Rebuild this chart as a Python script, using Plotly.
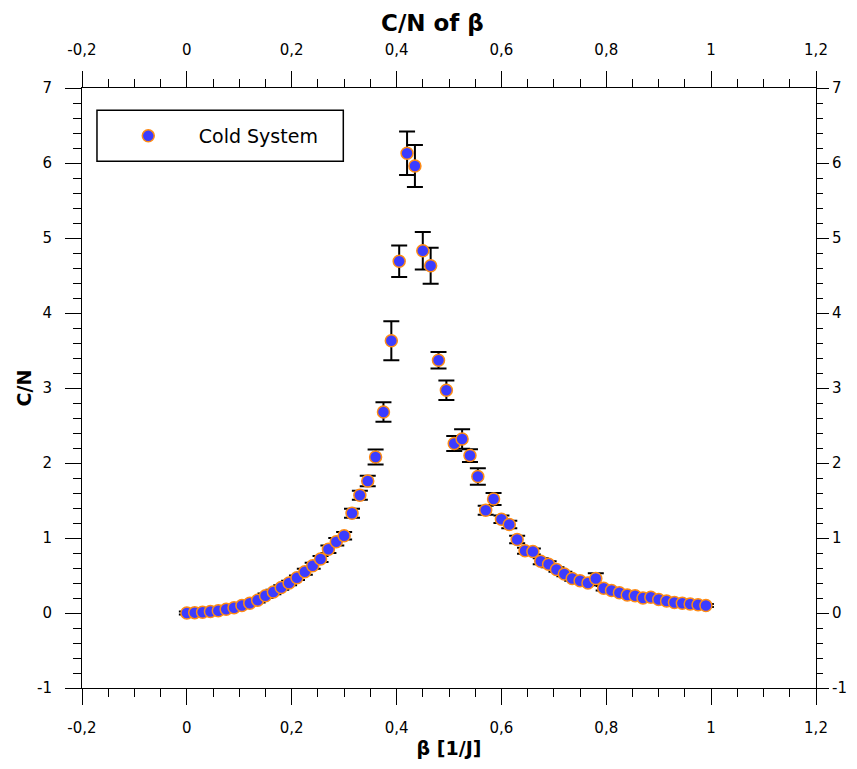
import plotly.graph_objects as go

# ---- data ----
beta = [round(0.015 * i, 3) for i in range(67)]
cn = [0.00, 0.005, 0.01, 0.02, 0.03, 0.05, 0.07, 0.10, 0.13, 0.17,
      0.23, 0.28, 0.34, 0.40, 0.47, 0.55, 0.63, 0.72, 0.85, 0.95,
      1.03, 1.33, 1.57, 1.76, 2.08, 2.68, 3.63, 4.69, 6.13, 5.96,
      4.83, 4.63, 3.37, 2.97, 2.26, 2.32, 2.10, 1.82, 1.37, 1.52,
      1.25, 1.18, 0.98, 0.83, 0.82, 0.69, 0.65, 0.58, 0.52, 0.46,
      0.43, 0.40, 0.46, 0.33, 0.30, 0.27, 0.24, 0.23, 0.20, 0.21,
      0.18, 0.16, 0.14, 0.13, 0.12, 0.11, 0.10]
cn_err = [0.02, 0.02, 0.02, 0.02, 0.02, 0.02, 0.02, 0.02, 0.02, 0.03,
          0.03, 0.03, 0.03, 0.03, 0.03, 0.04, 0.04, 0.04, 0.05, 0.05,
          0.05, 0.06, 0.06, 0.07, 0.10, 0.13, 0.26, 0.21, 0.29, 0.28,
          0.25, 0.24, 0.11, 0.13, 0.10, 0.13, 0.085, 0.11, 0.06, 0.08,
          0.05, 0.05, 0.05, 0.04, 0.04, 0.04, 0.04, 0.03, 0.03, 0.03,
          0.03, 0.03, 0.07, 0.03, 0.03, 0.03, 0.03, 0.03, 0.02, 0.02,
          0.02, 0.02, 0.02, 0.02, 0.02, 0.02, 0.02]

x_ticks = [-0.2, 0, 0.2, 0.4, 0.6, 0.8, 1, 1.2]
x_ticklabels = ["-0,2", "0", "0,2", "0,4", "0,6", "0,8", "1", "1,2"]
y_ticks = [-1, 0, 1, 2, 3, 4, 5, 6, 7]
y_ticklabels = ["-1", "0", "1", "2", "3", "4", "5", "6", "7"]

FONT = "DejaVu Sans"
TICKFONT = dict(family=FONT, size=15, color="black")
TITLEFONT = dict(family=FONT, size=19, color="black")

fig = go.Figure()
fig.add_trace(go.Scatter(
    x=beta, y=cn, mode="markers", name="Cold System",
    marker=dict(size=12, color="rgb(60,60,255)",
                line=dict(color="rgb(255,140,20)", width=1.5)),
    error_y=dict(type="data", array=cn_err, visible=True,
                 color="black", thickness=2, width=8),
))
# invisible companion trace so the top / right axes are drawn
fig.add_trace(go.Scatter(
    x=beta, y=cn, xaxis="x2", yaxis="y2", mode="markers",
    marker=dict(opacity=0), showlegend=False, hoverinfo="skip",
))

axis_common = dict(
    showgrid=False, zeroline=False, showline=True, linecolor="black",
    linewidth=1, ticks="outside", tickcolor="black",
    tickwidth=1, tickfont=TICKFONT, automargin=False,
    ticklabeloverflow="allow",
)
xminor = dict(ticks="outside", ticklen=8, dtick=0.05, tickcolor="black")
yminor = dict(ticks="outside", ticklen=8, dtick=0.2, tickcolor="black")
yminor_r = dict(ticks="outside", ticklen=6, dtick=0.2, tickcolor="black")

fig.update_layout(
    width=841, height=753,
    margin=dict(l=74, r=33, t=80, b=73),
    plot_bgcolor="white", paper_bgcolor="white",
    showlegend=True,
    legend=dict(x=0.0215, y=0.92, xanchor="left", yanchor="middle",
                borderwidth=0, bgcolor="rgba(0,0,0,0)",
                font=dict(family=FONT, size=19, color="black"),
                itemwidth=91),
    shapes=[dict(type="rect", xref="paper", yref="paper",
                 x0=0.0204, x1=0.356, y0=0.878, y1=0.963,
                 line=dict(color="black", width=1.5),
                 fillcolor="white", layer="below")],
    annotations=[dict(text="<b>C/N of β</b>", xref="paper", yref="paper",
                      x=0.477, y=1.1333, xanchor="center", yanchor="top",
                      showarrow=False,
                      font=dict(family=FONT, size=23, color="black"))],
    xaxis=dict(range=[-0.2, 1.2], tickvals=x_ticks, ticktext=x_ticklabels,
               minor=xminor, ticklen=16, ticklabelstandoff=10,
               title=dict(text="<b>β [1/J]</b>", standoff=5, font=TITLEFONT),
               **axis_common),
    yaxis=dict(range=[-1, 7], tickvals=y_ticks, ticktext=y_ticklabels,
               minor=yminor, ticklen=16, ticklabelstandoff=10,
               title=dict(text="<b>C/N</b>", standoff=0, font=TITLEFONT),
               **axis_common),
    xaxis2=dict(range=[-0.2, 1.2], overlaying="x", side="top",
                tickvals=x_ticks, ticktext=x_ticklabels, minor=xminor,
                ticklen=16, ticklabelstandoff=10, **axis_common),
    yaxis2=dict(range=[-1, 7], overlaying="y", side="right",
                tickvals=y_ticks, ticktext=y_ticklabels, minor=yminor_r,
                ticklen=12, ticklabelstandoff=0, **axis_common),
)

fig.write_html("out.html")
